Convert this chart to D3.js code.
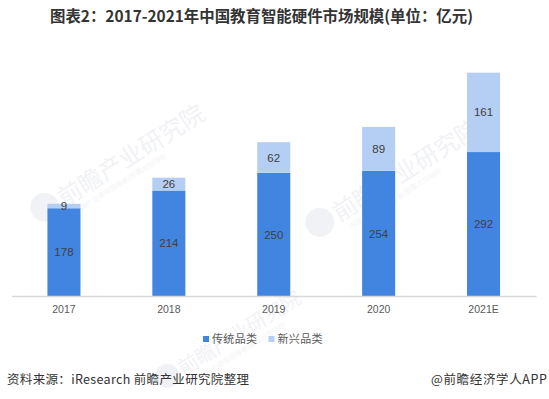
<!DOCTYPE html>
<html><head><meta charset="utf-8">
<script src="https://cdn.jsdelivr.net/npm/d3@7/dist/d3.min.js"></script>
<style>
body{margin:0;background:#fff;}
svg{display:block;font-family:"Microsoft YaHei","Noto Sans CJK SC",sans-serif;}
</style></head>
<body><svg id="c" width="549" height="399"></svg>
<script>
const categories = ["2017","2018","2019","2020","2021E"];
const traditional = [178,214,250,254,292];
const emerging = [9,26,62,89,161];
const seriesNames = ["传统品类","新兴品类"];
const colors = ["#4285E1","#B4CFF3"];
const title = "图表2：2017-2021年中国教育智能硬件市场规模(单位：亿元)";
const sourceText = "资料来源：iResearch 前瞻产业研究院整理";
const brandText = "@前瞻经济学人APP";
const watermarkText = "前瞻产业研究院";
const watermarkSub = "中国产业咨询领导者(股票:839599)";

const svg = d3.select("#c");

// faint watermarks
const wm = [[60,200,24],[335,215,24],[180,370,20]];
wm.forEach(([x,y,fs])=>{
  const g = svg.append("g").attr("transform",`translate(${x},${y}) rotate(-32)`);
  g.append("circle").attr("cx",-fs*0.7).attr("cy",-2).attr("r",fs*0.6).attr("fill","#f1f2f5");
  g.append("text").attr("x",0).attr("y",fs*0.35).attr("font-size",fs)
   .attr("fill","#f1f2f5").text(watermarkText);
  g.append("text").attr("x",6).attr("y",fs*0.35+12).attr("font-size",7)
   .attr("fill","#f3f4f6").text(watermarkSub);
});

const x = d3.scaleBand().domain(categories).range([11.5,536]).paddingInner(0.685).paddingOuter(0.3425);
const y = d3.scaleLinear().domain([0,500]).range([296,49.5]);

const data = categories.map((c,i)=>({cat:c, t:traditional[i], e:emerging[i]}));
const stack = d3.stack().keys(["t","e"])(data);

stack.forEach((layer,li)=>{
  const g = svg.append("g");
  g.selectAll("rect").data(layer).enter().append("rect")
   .attr("x",d=>x(d.data.cat)).attr("width",x.bandwidth())
   .attr("y",d=>y(d[1])).attr("height",d=>y(d[0])-y(d[1]))
   .attr("fill",colors[li]);
  g.selectAll("text").data(layer).enter().append("text")
   .attr("x",d=>x(d.data.cat)+x.bandwidth()/2)
   .attr("y",d=>(y(d[0])+y(d[1]))/2)
   .attr("dy","0.36em").attr("text-anchor","middle")
   .attr("font-size",11.5).attr("fill","#404040")
   .attr("font-family","'Liberation Sans',Arial,sans-serif")
   .text(d=>d[1]-d[0]);
});

// axis
const ax = svg.append("g").attr("transform","translate(0,296)")
  .call(d3.axisBottom(x).tickSize(0).tickPadding(10));
ax.select(".domain").attr("stroke","#d9d9d9").attr("stroke-width",1.5);
ax.selectAll("text").attr("font-size",10.5).attr("fill","#595959")
  .attr("font-family","'Liberation Sans',Arial,sans-serif");

// legend
const lx = [203,268.5];
seriesNames.forEach((n,i)=>{
  svg.append("rect").attr("x",lx[i]).attr("y",336).attr("width",6).attr("height",6).attr("fill",colors[i]);
  svg.append("text").attr("x",lx[i]+9).attr("y",339).attr("dy","0.36em")
   .attr("font-size",11).attr("fill","#595959").attr("textLength",45).text(n);
});

// title
svg.append("text").attr("x",50).attr("y",16).attr("dy","0.36em")
  .attr("font-size",15.5).attr("font-weight","bold").attr("fill","#333")
  .attr("textLength",423).attr("lengthAdjust","spacingAndGlyphs").text(title);

// footer
svg.append("text").attr("x",7).attr("y",379).attr("dy","0.36em")
  .attr("font-size",12.5).attr("fill","#333").attr("textLength",242).text(sourceText);
svg.append("text").attr("x",431).attr("y",379).attr("dy","0.36em")
  .attr("font-size",12.5).attr("fill","#333").attr("textLength",116).text(brandText);
</script></body></html>
